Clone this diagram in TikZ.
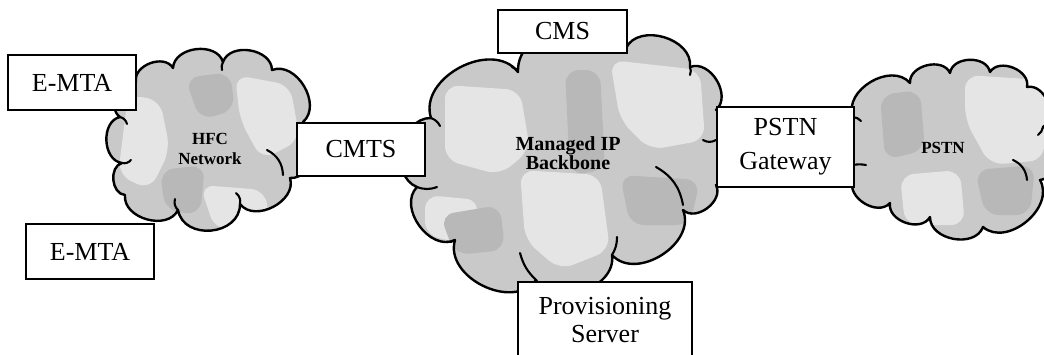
\documentclass[tikz,border=0pt]{standalone}
\usepackage{fontspec}
\setmainfont{Liberation Serif}
\begin{document}
\begin{tikzpicture}[x=1pt,y=-1pt]
\tikzset{
  box/.style={draw, line width=2.6pt, fill=white, inner sep=0pt, align=center,
              font=\fontsize{26}{28}\selectfont},
  cloudlbl/.style={font=\bfseries\fontsize{17}{20}\selectfont, align=center, inner sep=0pt},
  cloudline/.style={line width=2.4pt, line join=round},
  puff/.style={bend left=80, looseness=1.1},
  bigpuff/.style={bend left=85, looseness=1.3},
  hook/.style={line width=2.1pt, line cap=round},
  basefill/.style={fill=black!21},
  lightpatch/.style={fill=black!10, rounded corners=14pt},
  darkpatch/.style={fill=black!28, rounded corners=14pt},
}
\useasboundingbox (0,0) rectangle (1044,354);
\clip (0,0) rectangle (1044,354);

% ---------- cloud outlines ----------
\def\hfcpath{(136,82) to[puff] (173,68) to[puff] (223,62) to[puff] (272,70)
  to[puff] (303,122) to[puff] (290,178) to[puff] (240,204) to[bigpuff] (178,210)
  to[puff] (125,195) to[puff] (122,163) to[puff] (120,117) to[puff] cycle}
\def\ippath{(431,118) to[puff] (518,72) to[puff] (626,48) to[puff] (690,67)
  to[puff] (716,110) to[puff] (716,185) to[puff] (683,210) to[puff] (612,255)
  to[puff] (536,280) to[puff] (455,240) to[puff] (417,187) to[puff] cycle}
\def\pstnpath{(853,117) to[puff] (910,83) to[puff] (950,73) to[puff] (990,72)
  to[puff] (1027,87) to[puff] (1043,127) to[puff] (1040,180) to[puff] (983,227)
  to[puff] (930,217) to[puff] (890,203) to[puff] (853,180) to[puff] cycle}

% ---------- mottled fills ----------
\begin{scope}
  \clip \hfcpath;
  \path[basefill] (90,50) rectangle (320,240);
  \path[lightpatch] (128,95) -- (160,100) -- (170,150) -- (150,190) -- (118,175) -- cycle;
  \path[lightpatch] (235,75) -- (290,85) -- (300,140) -- (262,160) -- (240,120) -- cycle;
  \path[lightpatch] (200,185) -- (265,190) -- (270,225) -- (215,230) -- cycle;
  \path[darkpatch] (185,78) -- (230,72) -- (235,110) -- (200,120) -- cycle;
  \path[darkpatch] (160,170) -- (205,165) -- (200,215) -- (165,210) -- cycle;
\end{scope}
\begin{scope}
  \clip \ippath;
  \path[basefill] (400,20) rectangle (730,300);
  \path[lightpatch] (445,85) -- (520,90) -- (530,150) -- (500,175) -- (445,160) -- cycle;
  \path[lightpatch] (610,60) -- (700,70) -- (705,140) -- (650,150) -- (620,120) -- cycle;
  \path[lightpatch] (520,170) -- (600,175) -- (610,250) -- (560,270) -- (525,240) -- cycle;
  \path[lightpatch] (425,195) -- (480,200) -- (470,245) -- (425,235) -- cycle;
  \path[darkpatch] (565,70) -- (600,70) -- (605,170) -- (570,175) -- cycle;
  \path[darkpatch] (620,175) -- (700,180) -- (690,225) -- (630,225) -- cycle;
  \path[darkpatch] (440,215) -- (500,205) -- (505,250) -- (455,255) -- cycle;
\end{scope}
\begin{scope}
  \clip \pstnpath;
  \path[basefill] (840,60) rectangle (1044,240);
  \path[lightpatch] (965,75) -- (1044,80) -- (1044,160) -- (990,165) -- (965,120) -- cycle;
  \path[lightpatch] (900,175) -- (960,170) -- (965,225) -- (905,225) -- cycle;
  \path[darkpatch] (880,95) -- (920,90) -- (925,150) -- (885,160) -- cycle;
  \path[darkpatch] (975,170) -- (1035,165) -- (1030,215) -- (985,215) -- cycle;
\end{scope}

\draw[cloudline] \hfcpath;
\draw[cloudline] \ippath;
\draw[cloudline] \pstnpath;

% ---------- inner hooks of the puffs ----------
\draw[hook] (120,117) to[bend left=30] (127,124);
\draw[hook] (122,163) to[bend right=30] (131,160);
\draw[hook] (178,210) to[bend left=30] (175,199);
\draw[hook] (240,204) to[bend right=30] (236,193);
\draw[hook] (267,150) to[bend left=30] (283,175);
\draw[hook] (223,62) to[bend right=20] (222,70);

\draw[hook] (431,118) to[bend left=20] (440,126);
\draw[hook] (518,72) to[bend right=20] (512,67);
\draw[hook] (690,67) to[bend left=20] (690,75);
\draw[hook] (716,140) to[bend left=30] (703,140);
\draw[hook] (656,167) to[bend left=25] (683,205);
\draw[hook] (612,255) to[bend right=15] (617,237);
\draw[hook] (536,280) to[bend left=15] (520,253);
\draw[hook] (455,240) to[bend left=20] (447,242);
\draw[hook] (417,187) to[bend right=20] (437,187);

\draw[hook] (853,117) to[bend left=20] (861,121);
\draw[hook] (853,165) to[bend left=10] (866,165);
\draw[hook] (1013,160) to[bend left=30] (1027,180);
\draw[hook] (1043,127) to[bend left=20] (1038,135);

% ---------- cloud labels ----------
\node[cloudlbl] (hfc) at (210,149) {HFC\\Network};
\node[cloudlbl, font=\bfseries\fontsize{20}{19}\selectfont] (ip) at (568,153) {Managed IP\\Backbone};
\node[cloudlbl] (pstn) at (943,148) {PSTN};

% ---------- boxes ----------
\node[box, minimum width=128pt, minimum height=55pt] (emta1) at (72,82.5) {E-MTA};
\node[box, minimum width=128pt, minimum height=55pt] (emta2) at (90,251.5) {E-MTA};
\node[box, minimum width=128pt, minimum height=53pt] (cmts) at (361,149.5) {CMTS};
\node[box, minimum width=129pt, minimum height=43pt] (cms) at (562.5,31.5) {CMS};
\node[box, minimum width=174pt, minimum height=76pt] (prov) at (605,320) {Provisioning\\Server};
\node[box, minimum width=137pt, minimum height=80pt, font=\fontsize{26}{34}\selectfont] (gw) at (785.5,147) {PSTN\\Gateway};
\end{tikzpicture}
\end{document}
